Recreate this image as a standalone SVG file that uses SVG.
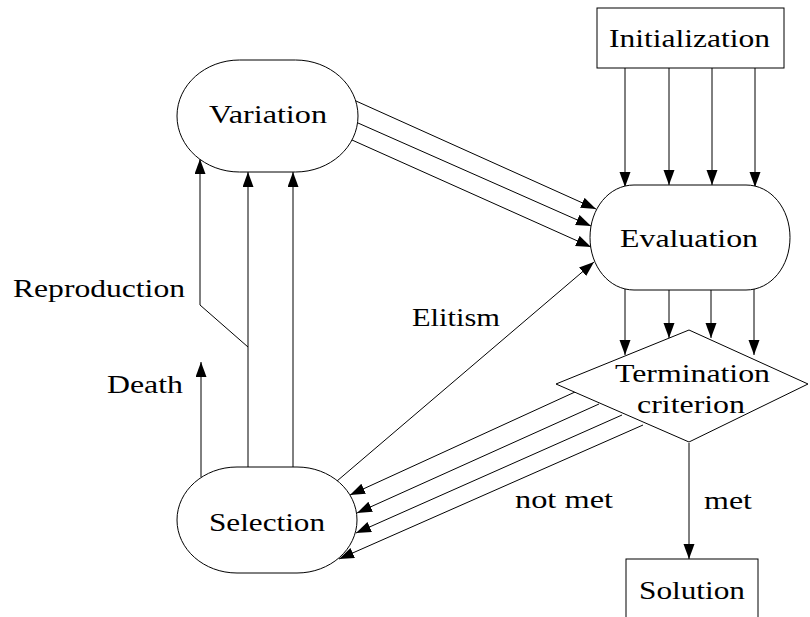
<svg xmlns="http://www.w3.org/2000/svg" width="810" height="617" viewBox="0 0 810 617">
<style>
.shape{fill:#fff;stroke:#000;stroke-width:1}
.edge{fill:none;stroke:#000;stroke-width:1;marker-end:url(#ah)}
.t{font-family:'Liberation Serif','Times New Roman','DejaVu Serif',serif;font-size:25px;fill:#000}
</style>
<defs>
<marker id="ah" markerUnits="userSpaceOnUse" markerWidth="16" markerHeight="12" refX="15" refY="5.5" orient="auto">
<path d="M0,0 L15,5.5 L0,11 Z" fill="#000"/>
</marker>
</defs>
<rect width="810" height="617" fill="#fff"/>
<g id="connectors">
<path class="edge" d="M625,68 V187"/>
<path class="edge" d="M669,68 V185"/>
<path class="edge" d="M712,68 V185"/>
<path class="edge" d="M755,68 V187"/>
<path class="edge" d="M625,289 V355"/>
<path class="edge" d="M669,290 V338"/>
<path class="edge" d="M711,290 V338"/>
<path class="edge" d="M754,289 V355"/>
<path class="edge" d="M356,101 L596,209"/>
<path class="edge" d="M358,123 L591,226"/>
<path class="edge" d="M352,140 L591,247"/>
<path class="edge" d="M337,481 L594,262"/>
<path class="edge" d="M575,392 L350,495"/>
<path class="edge" d="M599,404 L357,513"/>
<path class="edge" d="M622,415 L356,533"/>
<path class="edge" d="M643,425 L339,559"/>
<path class="edge" d="M689,443 V559"/>
<path class="edge" d="M248,347 L200,305 V159"/>
<path class="edge" d="M248,467 V172"/>
<path class="edge" d="M293,467 V172"/>
<path class="edge" d="M201,477 V362"/>
</g>
<g id="initialization">
<rect class="shape" x="597" y="8" width="187" height="60"/>
<text class="t" x="609" y="47" textLength="161" lengthAdjust="spacingAndGlyphs">Initialization</text>
</g>
<g id="variation">
<path class="shape" d="M239.5,60 H295.5 C330,60 358,85.1 358,116 C358,146.9 330,172 295.5,172 H239.5 C205,172 177,146.9 177,116 C177,85.1 205,60 239.5,60 Z"/>
<text class="t" x="209" y="123" textLength="118" lengthAdjust="spacingAndGlyphs">Variation</text>
</g>
<g id="evaluation">
<path class="shape" d="M634,185 H746 C771,185 790,208.5 790,237.5 C790,266.5 771,290 746,290 H634 C609,290 590,266.5 590,237.5 C590,208.5 609,185 634,185 Z"/>
<text class="t" x="620" y="247" textLength="138" lengthAdjust="spacingAndGlyphs">Evaluation</text>
</g>
<g id="termination">
<path class="shape" d="M689,330 L808,384 L689,442 L556,384 Z"/>
<text class="t" x="615" y="382" textLength="155" lengthAdjust="spacingAndGlyphs">Termination</text>
<text class="t" x="637" y="413" textLength="108" lengthAdjust="spacingAndGlyphs">criterion</text>
</g>
<g id="selection">
<path class="shape" d="M237,467 H297 C330.1,467 357,490.7 357,520 C357,549.3 330.1,573 297,573 H237 C203.9,573 177,549.3 177,520 C177,490.7 203.9,467 237,467 Z"/>
<text class="t" x="209" y="531" textLength="116" lengthAdjust="spacingAndGlyphs">Selection</text>
</g>
<g id="solution">
<rect class="shape" x="626" y="559" width="132" height="90"/>
<text class="t" x="639" y="599" textLength="106" lengthAdjust="spacingAndGlyphs">Solution</text>
</g>
<g id="labels">
<text class="t" x="13" y="297" textLength="172" lengthAdjust="spacingAndGlyphs">Reproduction</text>
<text class="t" x="107" y="393" textLength="76" lengthAdjust="spacingAndGlyphs">Death</text>
<text class="t" x="412" y="326" textLength="88" lengthAdjust="spacingAndGlyphs">Elitism</text>
<text class="t" x="515" y="508" textLength="98" lengthAdjust="spacingAndGlyphs">not met</text>
<text class="t" x="704" y="509" textLength="48" lengthAdjust="spacingAndGlyphs">met</text>
</g>
</svg>
